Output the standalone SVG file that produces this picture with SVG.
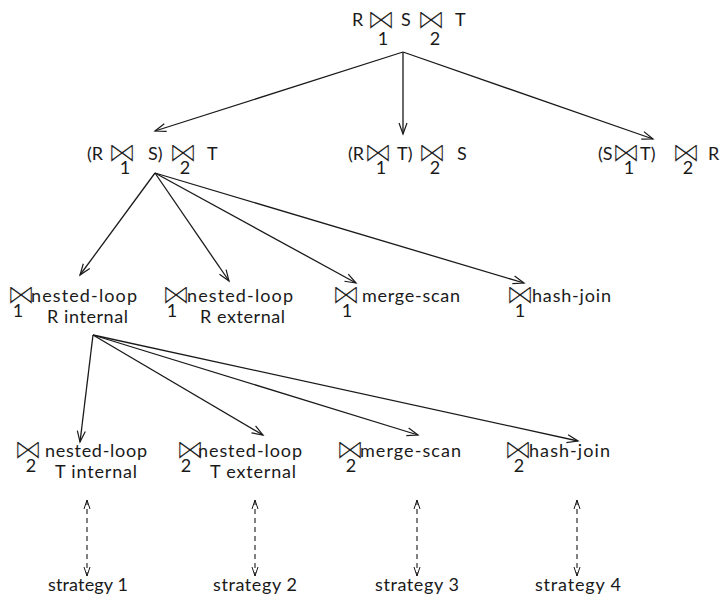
<svg xmlns="http://www.w3.org/2000/svg" width="722" height="600" viewBox="0 0 722 600">
<defs>
<marker id="ah" markerUnits="userSpaceOnUse" markerWidth="12" markerHeight="10" refX="11" refY="4" orient="auto" overflow="visible">
<path d="M0,0 L11,4 L0,8" fill="none" stroke="#1a1a1a" stroke-width="1.2"/>
</marker>
<marker id="ahs" markerUnits="userSpaceOnUse" markerWidth="10" markerHeight="8" refX="9" refY="3" orient="auto-start-reverse" overflow="visible">
<path d="M0,0 L9,3 L0,6" fill="none" stroke="#1a1a1a" stroke-width="1"/>
</marker>
</defs>
<style>
text{font-family:Lato,"Open Sans","Liberation Sans",sans-serif;fill:#1a1a1a;}
.t{font-size:18px;}
.b{font-family:"DejaVu Sans",sans-serif;font-size:29px;text-anchor:middle;stroke:#fff;stroke-width:1.1px;}
.s{font-size:18px;text-anchor:middle;}
.c line{stroke:#1a1a1a;stroke-width:1.3;fill:none;marker-end:url(#ah);}
.d line{stroke:#1a1a1a;stroke-width:1.1;stroke-dasharray:5,4;marker-start:url(#ahs);marker-end:url(#ahs);}
</style>
<rect width="722" height="600" fill="#fff"/>
<g id="root">
<text class="t" x="352" y="26">R</text>
<text class="b" x="381" y="29">⋈</text>
<text class="s" x="383" y="45">1</text>
<text class="t" x="401" y="26">S</text>
<text class="b" x="431" y="29">⋈</text>
<text class="s" x="435" y="45">2</text>
<text class="t" x="455" y="26">T</text>
</g>
<g id="n_rs_t">
<text class="t" x="87" y="160">(R</text>
<text class="b" x="122" y="162">⋈</text>
<text class="s" x="125" y="174">1</text>
<text class="t" x="148" y="160">S)</text>
<text class="b" x="183" y="162">⋈</text>
<text class="s" x="185" y="174">2</text>
<text class="t" x="207" y="160">T</text>
</g>
<g id="n_rt_s">
<text class="t" x="348" y="160">(R</text>
<text class="b" x="378" y="162">⋈</text>
<text class="s" x="381" y="174">1</text>
<text class="t" x="397" y="160">T)</text>
<text class="b" x="432" y="162">⋈</text>
<text class="s" x="435" y="174">2</text>
<text class="t" x="457" y="160">S</text>
</g>
<g id="n_st_r">
<text class="t" x="598" y="160">(S</text>
<text class="b" x="626" y="162">⋈</text>
<text class="s" x="629" y="174">1</text>
<text class="t" x="640" y="160">T)</text>
<text class="b" x="686" y="162">⋈</text>
<text class="s" x="688" y="174">2</text>
<text class="t" x="708" y="160">R</text>
</g>
<g id="j1_nl_int">
<text class="b" x="21" y="304">⋈</text>
<text class="s" x="18" y="317">1</text>
<text class="t" x="31" y="302" textLength="106">nested-loop</text>
<text class="t" x="47" y="323" textLength="81">R internal</text>
</g>
<g id="j1_nl_ext">
<text class="b" x="176" y="304">⋈</text>
<text class="s" x="172" y="317">1</text>
<text class="t" x="187" y="302" textLength="106">nested-loop</text>
<text class="t" x="200" y="323" textLength="85">R external</text>
</g>
<g id="j1_ms">
<text class="b" x="346" y="304">⋈</text>
<text class="s" x="347" y="317">1</text>
<text class="t" x="362" y="302" textLength="98">merge-scan</text>
</g>
<g id="j1_hj">
<text class="b" x="520" y="304">⋈</text>
<text class="s" x="520" y="317">1</text>
<text class="t" x="532" y="302" textLength="79">hash-join</text>
</g>
<g id="j2_nl_int">
<text class="b" x="28" y="459">⋈</text>
<text class="s" x="31" y="472">2</text>
<text class="t" x="45" y="457" textLength="102">nested-loop</text>
<text class="t" x="55" y="478" textLength="82">T internal</text>
</g>
<g id="j2_nl_ext">
<text class="b" x="190" y="459">⋈</text>
<text class="s" x="186" y="472">2</text>
<text class="t" x="198" y="457" textLength="104">nested-loop</text>
<text class="t" x="210" y="478" textLength="86">T external</text>
</g>
<g id="j2_ms">
<text class="b" x="350" y="459">⋈</text>
<text class="s" x="351" y="472">2</text>
<text class="t" x="360" y="457" textLength="101">merge-scan</text>
</g>
<g id="j2_hj">
<text class="b" x="518" y="459">⋈</text>
<text class="s" x="519" y="472">2</text>
<text class="t" x="529" y="457" textLength="81">hash-join</text>
</g>
<g id="strategies">
<text class="t" x="48" y="591" textLength="80">strategy 1</text>
<text class="t" x="213" y="591" textLength="84">strategy 2</text>
<text class="t" x="375" y="591" textLength="84">strategy 3</text>
<text class="t" x="535" y="591" textLength="86">strategy 4</text>
</g>
<g id="connectors">
<g class="c">
<line x1="403" y1="52" x2="155" y2="131"/>
<line x1="403" y1="52" x2="403" y2="134"/>
<line x1="403" y1="52" x2="653" y2="139"/>
<line x1="155" y1="173" x2="80" y2="275"/>
<line x1="155" y1="173" x2="229" y2="281"/>
<line x1="155" y1="173" x2="356" y2="283"/>
<line x1="155" y1="173" x2="524" y2="283"/>
<line x1="93" y1="335" x2="80" y2="442"/>
<line x1="93" y1="335" x2="263" y2="435"/>
<line x1="93" y1="335" x2="418" y2="435"/>
<line x1="93" y1="335" x2="578" y2="441"/>
</g>
<g class="d">
<line x1="87" y1="500" x2="87" y2="576"/>
<line x1="255" y1="500" x2="255" y2="576"/>
<line x1="417" y1="500" x2="417" y2="576"/>
<line x1="577" y1="500" x2="577" y2="576"/>
</g>
</g>
</svg>
